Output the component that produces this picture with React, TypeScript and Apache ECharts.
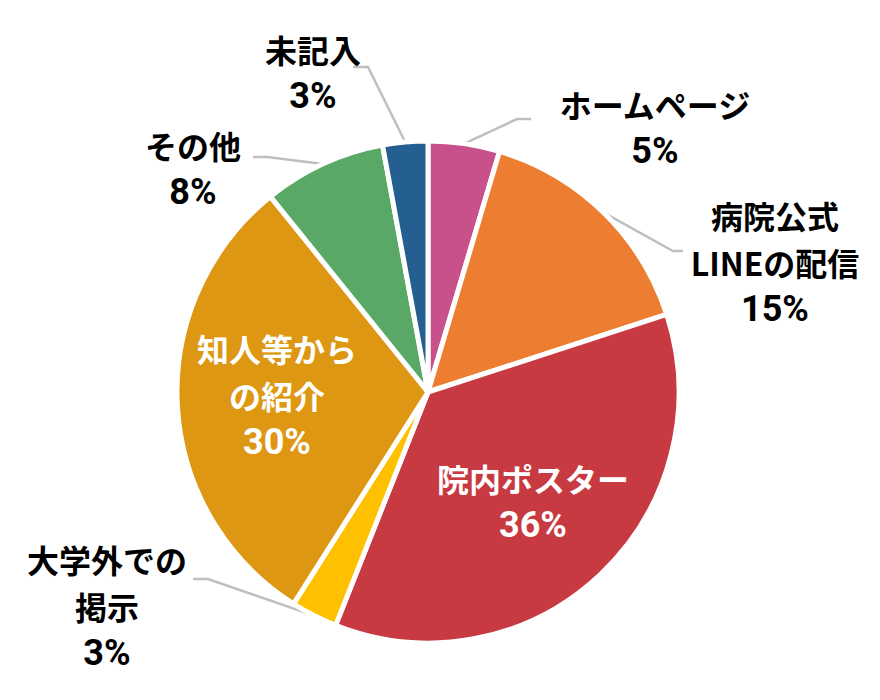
import { useEffect, useRef } from 'react';
import * as echarts from 'echarts';

const CATEGORIES = [
  'ホームページ',
  '病院公式\nLINEの配信',
  '院内ポスター',
  '大学外での\n掲示',
  '知人等から\nの紹介',
  'その他',
  '未記入',
];
const VALUES = [4.6, 15.4, 36.0, 3.0, 30.2, 7.9, 2.9];
const COLORS = ['#C9518B', '#ED7D31', '#C83A41', '#FFC000', '#DD9713', '#59A865', '#255E91'];
const INSIDE = [false, false, true, false, true, false, false];

// label centres and leader line bend / end points, in px
const LABEL_POS: { x: number; y: number; line?: number[][] }[] = [
  { x: 655, y: 127, line: [[517, 119], [531, 119]] },
  { x: 775, y: 262, line: [[673, 251], [683, 251]] },
  { x: 533, y: 501 },
  { x: 107, y: 606, line: [[208, 579], [193, 579]] },
  { x: 277, y: 395 },
  { x: 193, y: 168, line: [[267, 157], [253, 157]] },
  { x: 313, y: 72, line: [[368, 67], [353, 67]] },
];

const CJK = "'Noto Sans CJK JP', sans-serif";
const NUM = "'Liberation Sans Narrow', Roboto, 'Noto Sans CJK JP', sans-serif";

export default function App() {
  const chartRef = useRef<HTMLDivElement>(null);

  useEffect(() => {
    if (!chartRef.current) return;
    document.body.style.margin = '0';
    const chart = echarts.init(chartRef.current, null, { renderer: 'svg' });

    const data = CATEGORIES.map((name, i) => ({
      name,
      value: VALUES[i],
      itemStyle: { color: COLORS[i] },
      label: {
        position: INSIDE[i] ? 'inside' : 'outside',
        color: INSIDE[i] ? '#ffffff' : '#000000',
      },
      labelLine: { show: !INSIDE[i] },
    }));

    chart.setOption({
      animation: false,
      backgroundColor: '#ffffff',
      series: [
        {
          type: 'pie',
          center: [428, 392],
          radius: 251,
          startAngle: 90,
          clockwise: true,
          avoidLabelOverlap: false,
          silent: true,
          itemStyle: { borderColor: '#ffffff', borderWidth: 5 },
          label: {
            show: true,
            formatter: (p: any) =>
              p.name.split('\n').map((s: string) => `{t|${s}}`).join('\n') +
              `\n{n|${Math.round(p.percent)}%}`,
            rich: {
              t: { fontFamily: CJK, fontSize: 32, fontWeight: 'bold', lineHeight: 47, align: 'center' },
              n: { fontFamily: NUM, fontSize: 36, fontWeight: 'bold', lineHeight: 47, align: 'center' },
            },
          },
          labelLine: {
            show: true,
            lineStyle: { color: '#BFBFBF', width: 2.5 },
          },
          labelLayout: (params: any) => {
            const pos = LABEL_POS[params.dataIndex];
            const out: any = { x: pos.x, y: pos.y, align: 'center', verticalAlign: 'middle' };
            if (pos.line) {
              const start = params.labelLinePoints ? params.labelLinePoints[0] : pos.line[0];
              out.labelLinePoints = [start, ...pos.line];
            }
            return out;
          },
          data,
        },
      ],
    });

    return () => chart.dispose();
  }, []);

  return <div ref={chartRef} style={{ width: 880, height: 700 }} />;
}
